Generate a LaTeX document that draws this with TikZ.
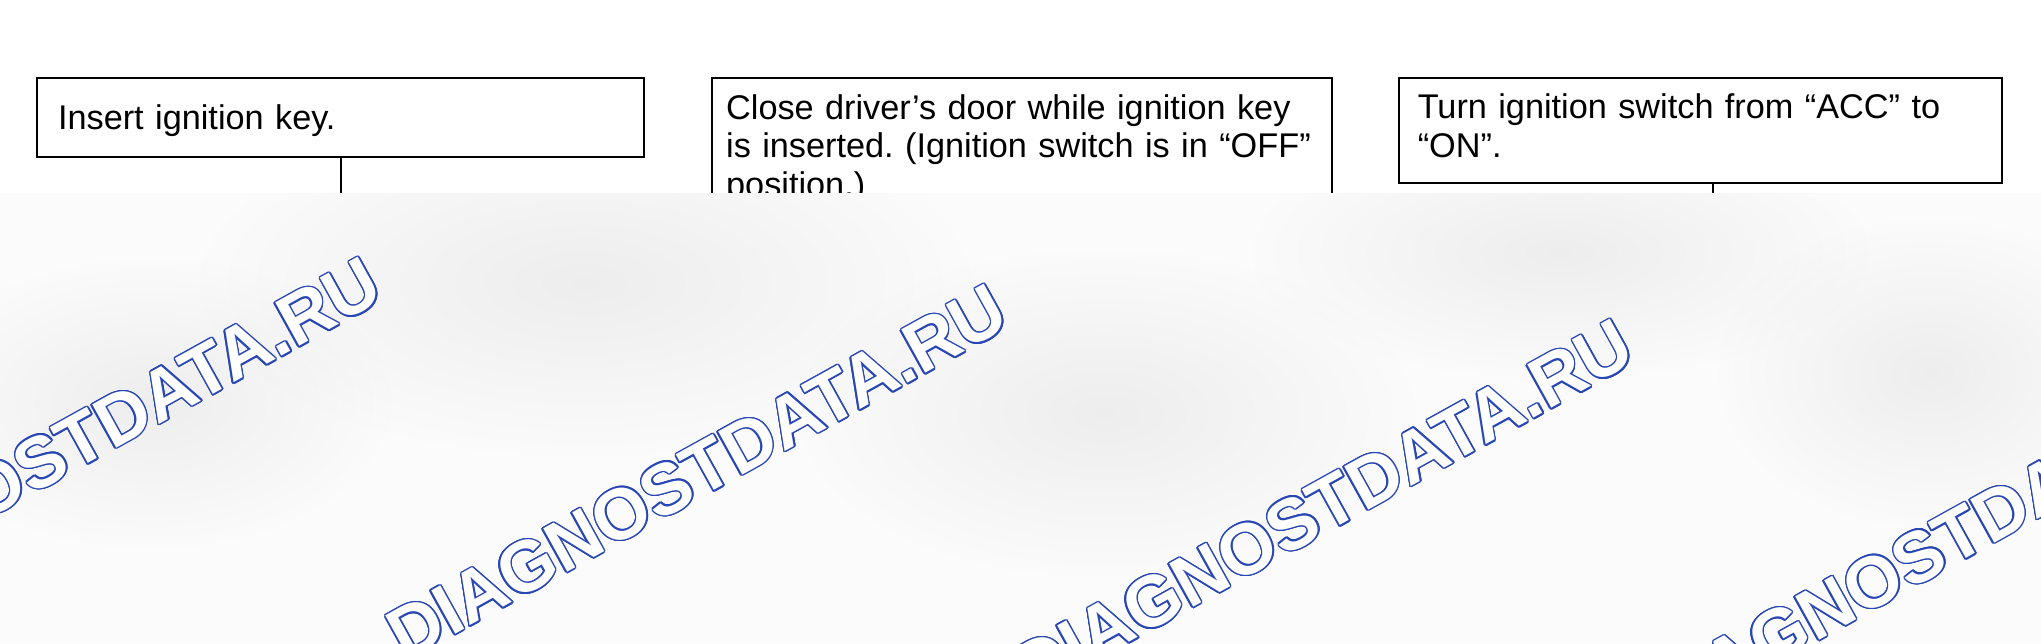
\documentclass[tikz,border=0pt]{standalone}
\usepackage{fontspec}
\setmainfont{Liberation Sans}
\usetikzlibrary{positioning}
\definecolor{wmblue}{RGB}{40,70,180}
\tikzset{
  stepbox/.style={shape=rectangle, draw=black, line width=0.6pt, align=left,
    anchor=north west, font=\fontsize{9.75}{11}\selectfont\frenchspacing},
  link/.style={draw=black, line width=0.6pt},
  wm/.style={font=\fontsize{20.5}{24}\selectfont\bfseries, rotate=29, inner sep=0pt},
  blob/.style={inner color=black!5.5, outer color=white}
}
\newcommand\wmark[2]{%
  \foreach \a in {0,22.5,...,337.5}
    \node[wm, text=wmblue, shift={(\a:0.42pt)}] at (#2) {DIAGNOSTDATA.RU};
  \node[wm, text=white] (#1) at (#2) {DIAGNOSTDATA.RU};}

\begin{document}
\begin{tikzpicture}
  \useasboundingbox (0,0) rectangle (20.41,6.43);

  \node[stepbox, minimum height=0.795cm, inner xsep=0.21cm, text width=5.65cm,
        text height=9pt] (insert)
       at (0.36,5.665) {Insert ignition key.};
  \node[stepbox, inner xsep=0.14cm, inner ysep=4.8pt, text width=5.92cm] (close)
       [right=0.66cm of insert.north east, anchor=north west]
       {Close driver’s door while ignition key\\ is inserted. (Ignition switch is in “OFF”\\ position.)};
  \node[stepbox, minimum height=1.05cm, inner xsep=0.185cm, text width=5.66cm,
        text depth=13.4pt] (turn)
       [right=0.65cm of close.north east, anchor=north west]
       {Turn ignition switch from “ACC” to\\ “ON”.};

  \coordinate [below=0.6cm of insert] (insertout);
  \coordinate [below=0.6cm of turn.south, xshift=0.12cm] (turnout);
  \path [link] (insert) -- (insertout);
  \path [link] (turn.south -| turnout) -- (turnout);

  % shaded backdrop over the lower part
  \fill[black!1.5] (0,0) rectangle (20.41,4.5);
  \begin{scope}[blend mode=multiply]
    \clip (0,0) rectangle (20.41,4.5);
    \shade[blob] (5.85,3.6) ellipse [x radius=4, y radius=1.8];
    \shade[blob] (11.06,2.3) ellipse [x radius=3.2, y radius=1.7];
    \shade[blob] (15.6,3.9) ellipse [x radius=3.2, y radius=1.3];
    \shade[blob] (1.5,2.4) ellipse [x radius=2.5, y radius=1.5];
    \shade[blob] (19.3,2.7) ellipse [x radius=2.2, y radius=1.6];
  \end{scope}

  \wmark{wm1}{0.71,1.98}
  \wmark{wm2}{6.97,1.71}
  \wmark{wm3}{13.23,1.36}
  \wmark{wm4}{19.49,1.03}
\end{tikzpicture}
\end{document}
